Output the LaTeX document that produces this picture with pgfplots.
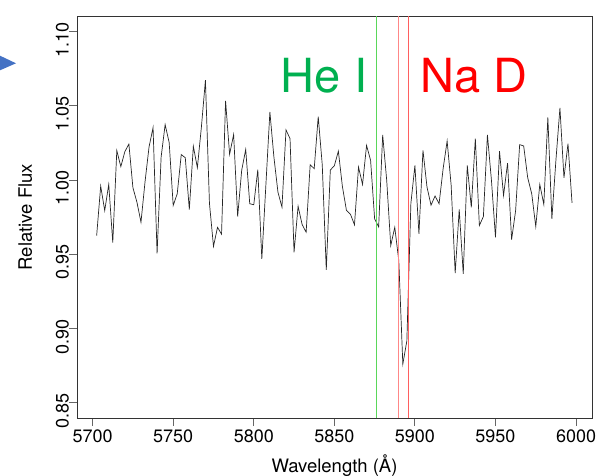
\documentclass[border=0pt]{standalone}
\usepackage{pgfplots}
\pgfplotsset{compat=1.18}
\usepackage{pgfplotstable}
\usepackage{fontspec}
\setmainfont{TeX Gyre Heros}
\definecolor{hegreen}{RGB}{0,176,80}
\definecolor{helinegreen}{RGB}{90,215,90}
\definecolor{nared}{RGB}{255,0,0}
\definecolor{nalinered}{RGB}{255,95,95}
\definecolor{slideblue}{RGB}{68,114,196}
\pgfplotstableread{
x y
5702.5 0.9626
5705.0 0.9960
5707.5 0.9795
5710.0 0.9971
5712.5 0.9579
5715.0 1.0199
5717.5 1.0091
5720.0 1.0192
5722.5 1.0243
5725.0 0.9949
5727.5 0.9851
5730.0 0.9716
5732.5 0.9987
5735.0 1.0223
5737.5 1.0354
5740.0 0.9507
5742.5 1.0155
5745.0 1.0374
5747.5 1.0253
5750.0 0.9829
5752.5 0.9908
5755.0 1.0172
5757.5 1.0151
5760.0 0.9802
5762.5 1.0228
5765.0 1.0084
5767.5 1.0358
5770.0 1.0674
5772.5 0.9843
5775.0 0.9554
5777.5 0.9682
5780.0 0.9636
5782.5 1.0534
5785.0 1.0174
5787.5 1.0307
5790.0 0.9755
5792.5 1.0066
5795.0 1.0207
5797.5 0.9841
5800.0 0.9834
5802.5 1.0070
5805.0 0.9469
5807.5 0.9964
5810.0 1.0459
5812.5 1.0155
5815.0 0.9919
5817.5 0.9818
5820.0 1.0338
5822.5 1.0280
5825.0 0.9514
5827.5 0.9824
5830.0 0.9701
5832.5 0.9649
5835.0 1.0104
5837.5 1.0077
5840.0 1.0428
5842.5 1.0103
5845.0 0.9395
5847.5 1.0068
5850.0 1.0097
5852.5 1.0195
5855.0 0.9957
5857.5 0.9797
5860.0 0.9770
5862.5 0.9699
5865.0 1.0088
5867.5 0.9971
5870.0 1.0234
5872.5 1.0133
5875.0 0.9739
5877.5 0.9684
5880.0 1.0305
5882.5 0.9998
5885.0 0.9559
5887.5 0.9682
5890.0 0.9457
5892.5 0.8760
5895.0 0.8917
5897.5 0.9843
5900.0 1.0099
5902.5 0.9638
5905.0 1.0201
5907.5 0.9953
5910.0 0.9831
5912.5 0.9893
5915.0 0.9841
5917.5 1.0076
5920.0 1.0264
5922.5 0.9964
5925.0 0.9373
5927.5 0.9803
5930.0 0.9368
5932.5 1.0099
5935.0 0.9816
5937.5 1.0280
5940.0 0.9694
5942.5 0.9755
5945.0 1.0305
5947.5 0.9998
5950.0 0.9615
5952.5 1.0196
5955.0 0.9897
5957.5 1.0115
5960.0 0.9599
5962.5 0.9795
5965.0 1.0239
5967.5 1.0230
5970.0 1.0016
5972.5 0.9908
5975.0 0.9687
5977.5 0.9971
5980.0 0.9836
5982.5 1.0422
5985.0 0.9739
5987.5 1.0133
5990.0 1.0486
5992.5 1.0016
5995.0 1.0246
5997.5 0.9847
}\spectrum
\begin{document}
\begin{tikzpicture}
\useasboundingbox (0,0) rectangle (602bp,476bp);
\fill[slideblue] (0bp,420.3bp) -- (16bp,412.7bp) -- (0bp,405.7bp) -- cycle;
\begin{axis}[
  at={(77bp,58bp)}, anchor=south west,
  scale only axis, width=515bp, height=402bp,
  xmin=5690.3, xmax=6009.9, ymin=0.8397, ymax=1.1106,
  xtick={5700,5750,5800,5850,5900,5950,6000},
  xticklabels={5700,5750,5800,5850,5900,5950,6000},
  ytick={0.85,0.90,0.95,1.00,1.05,1.10},
  yticklabels={0.85,0.90,0.95,1.00,1.05,1.10},
  tick align=outside, major tick length=8bp,
  xtick pos=bottom, ytick pos=left,
  axis line style={black!80, line width=0.9bp},
  tick style={black!60, line width=0.9bp},
  ticklabel style={font=\fontsize{18bp}{21bp}\selectfont},
  xticklabel style={anchor=north, inner sep=0pt, yshift=-4bp},
  yticklabel style={rotate=90, anchor=south, inner sep=0pt, xshift=-8bp},
  xlabel={Wavelength (Å)},
  ylabel={Relative Flux},
  label style={font=\fontsize{18.5bp}{22bp}\selectfont},
  xlabel style={at={(axis description cs:0.5,0)}, anchor=base, yshift=-54bp, inner sep=0pt},
  ylabel style={at={(axis description cs:-0.0874,0.5)}, anchor=base, inner sep=0pt},
  clip=false,
]
\addplot[black!85, line width=0.7bp] table[x=x,y=y] {\spectrum};
\addplot[helinegreen, line width=0.9bp] coordinates {(5875.9,0.8397) (5875.9,1.1106)};
\addplot[nalinered!75, line width=0.9bp] coordinates {(5889.6,0.8397) (5889.6,1.1106)};
\addplot[nalinered, line width=0.9bp] coordinates {(5895.8,0.8397) (5895.8,1.1106)};
\node[anchor=base east, text=hegreen, font=\fontsize{47bp}{50bp}\selectfont, inner sep=0pt] at (axis cs:5870.5,1.0593) {He I};
\node[anchor=base west, text=nared, font=\fontsize{47bp}{50bp}\selectfont, inner sep=0pt] at (axis cs:5903.5,1.0593) {Na D};
\end{axis}
\end{tikzpicture}
\end{document}
